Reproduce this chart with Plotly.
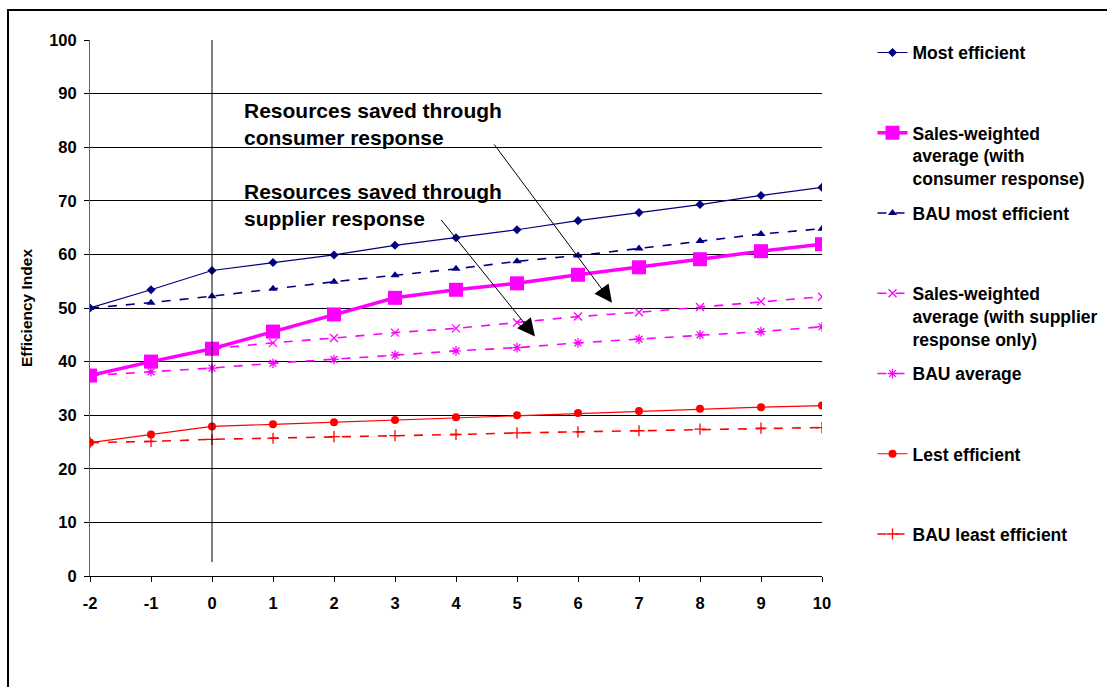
import plotly.graph_objects as go

years = [-2, -1, 0, 1, 2, 3, 4, 5, 6, 7, 8, 9, 10]
supplier_years = [0, 1, 2, 3, 4, 5, 6, 7, 8, 9, 10]

most_efficient = [50.0, 53.4, 57.0, 58.5, 59.9, 61.7, 63.1, 64.6, 66.3, 67.8, 69.3, 71.0, 72.5]
bau_most_efficient = [50.0, 51.0, 52.2, 53.6, 54.9, 56.1, 57.3, 58.7, 59.8, 61.1, 62.5, 63.8, 64.8]
sw_consumer = [37.4, 40.0, 42.4, 45.6, 48.8, 51.9, 53.4, 54.6, 56.2, 57.6, 59.1, 60.6, 61.9]
sw_supplier = [42.4, 43.5, 44.4, 45.4, 46.2, 47.3, 48.4, 49.2, 50.2, 51.2, 52.1]
bau_average = [37.4, 38.1, 38.8, 39.7, 40.4, 41.2, 42.0, 42.6, 43.5, 44.2, 45.0, 45.6, 46.5]
least_efficient = [24.9, 26.4, 27.9, 28.3, 28.7, 29.1, 29.6, 30.0, 30.4, 30.8, 31.2, 31.5, 31.8]
bau_least_efficient = [24.9, 25.1, 25.5, 25.7, 26.0, 26.2, 26.4, 26.7, 26.9, 27.1, 27.4, 27.6, 27.7]

x_ticks = [-2, -1, 0, 1, 2, 3, 4, 5, 6, 7, 8, 9, 10]
y_ticks = [0, 10, 20, 30, 40, 50, 60, 70, 80, 90, 100]

NAVY = "#000080"
MAG = "#FF00FF"
RED = "#FF0000"
FONT = "Liberation Sans, Arial, sans-serif"

PAD1 = "<br> <br> "

fig = go.Figure()

def add(x, y, name, rank, color, width, dash, symbol, size, mline=0):
    fig.add_trace(go.Scatter(
        x=x, y=y, name=name, mode="lines+markers",
        line=dict(color=color, width=width, dash=dash),
        marker=dict(symbol=symbol, size=size, color=color,
                    line=dict(color=color, width=mline)),
        legendrank=rank, legendgroup=str(rank),
    ))

add(years, most_efficient, "Most efficient" + PAD1, 1, NAVY, 1.2, "solid", "diamond", 7)
add(years, bau_most_efficient, "BAU most efficient" + PAD1, 3, NAVY, 1.6, "dash", "triangle-up", 8)
add(years, bau_average, "BAU average" + PAD1, 5, MAG, 1.6, "dash", "asterisk-open", 8, 1.3)
add(supplier_years, sw_supplier, "Sales-weighted<br>average (with supplier<br>response only)", 4, MAG, 1.6, "dash", "x-thin-open", 8, 1.3)
add(years, sw_consumer, "Sales-weighted<br>average (with<br>consumer response)", 2, MAG, 3.5, "solid", "square", 14)
add(years, least_efficient, "Lest efficient" + PAD1, 6, RED, 1.2, "solid", "circle", 8)
add(years, bau_least_efficient, "BAU least efficient" + PAD1, 7, RED, 1.6, "dash", "cross-thin-open", 8, 1.3)

fig.update_layout(
    width=1107, height=687, autosize=False,
    margin=dict(l=90, r=285, t=40, b=111, autoexpand=False),
    paper_bgcolor="white", plot_bgcolor="white",
    font=dict(family=FONT, color="black"),
    showlegend=True,
    legend=dict(
        x=1.069, y=1.01, xanchor="left", yanchor="top",
        font=dict(family=FONT, size=17.5, weight="bold", color="black"),
        bgcolor="rgba(0,0,0,0)", borderwidth=0,
        traceorder="grouped", tracegroupgap=9, valign="top",
        itemwidth=30, maxheight=1.0,
    ),
    xaxis=dict(
        range=[-2, 10], tickmode="array", tickvals=x_ticks,
        ticktext=[str(v) for v in x_ticks],
        showgrid=False, zeroline=False,
        showline=True, linecolor="black", linewidth=1,
        ticks="outside", ticklen=5, tickcolor="black",
        tickfont=dict(family=FONT, size=16.5, weight="bold"),
        ticklabelstandoff=7,
    ),
    yaxis=dict(
        range=[0, 100], tickmode="array", tickvals=y_ticks,
        showgrid=True, gridcolor="black", gridwidth=1,
        zeroline=False,
        showline=True, linecolor="#606060", linewidth=1,
        ticks="outside", ticklen=5, tickcolor="black",
        tickfont=dict(family=FONT, size=16.5, weight="bold"),
        ticklabelstandoff=4,
        title=dict(text="Efficiency Index", standoff=12,
                   font=dict(family=FONT, size=15.5, weight="bold")),
    ),
)

# vertical reference line at year 0
fig.add_shape(type="line", xref="x", yref="y", x0=0, x1=0, y0=2.6, y1=100,
              line=dict(color="black", width=1), layer="above")

# outer chart border
fig.add_shape(type="rect", xref="paper", yref="paper",
              x0=-0.112, x1=1.45, y0=-0.25, y1=1.056,
              line=dict(color="black", width=2), fillcolor="rgba(0,0,0,0)")

# text annotations
fig.add_annotation(xref="paper", yref="paper", x=0.2077, y=0.8436,
                   xanchor="left", yanchor="middle", align="left", showarrow=False,
                   text="Resources saved through<br>consumer response",
                   font=dict(family=FONT, size=21, weight="bold", color="black"))
fig.add_annotation(xref="paper", yref="paper", x=0.2077, y=0.6924,
                   xanchor="left", yanchor="middle", align="left", showarrow=False,
                   text="Resources saved through<br>supplier response",
                   font=dict(family=FONT, size=21, weight="bold", color="black"))

# arrows
fig.add_annotation(xref="x", yref="y", axref="x", ayref="y",
                   x=6.557, y=51.0, ax=4.607, ay=80.8, text="",
                   showarrow=True, arrowhead=2, arrowsize=3.5, arrowwidth=1,
                   arrowcolor="black", standoff=0)
fig.add_annotation(xref="x", yref="y", axref="x", ayref="y",
                   x=5.295, y=44.7, ax=3.738, ay=66.7, text="",
                   showarrow=True, arrowhead=2, arrowsize=3.5, arrowwidth=1,
                   arrowcolor="black", standoff=0)

fig.write_html("out.html")
